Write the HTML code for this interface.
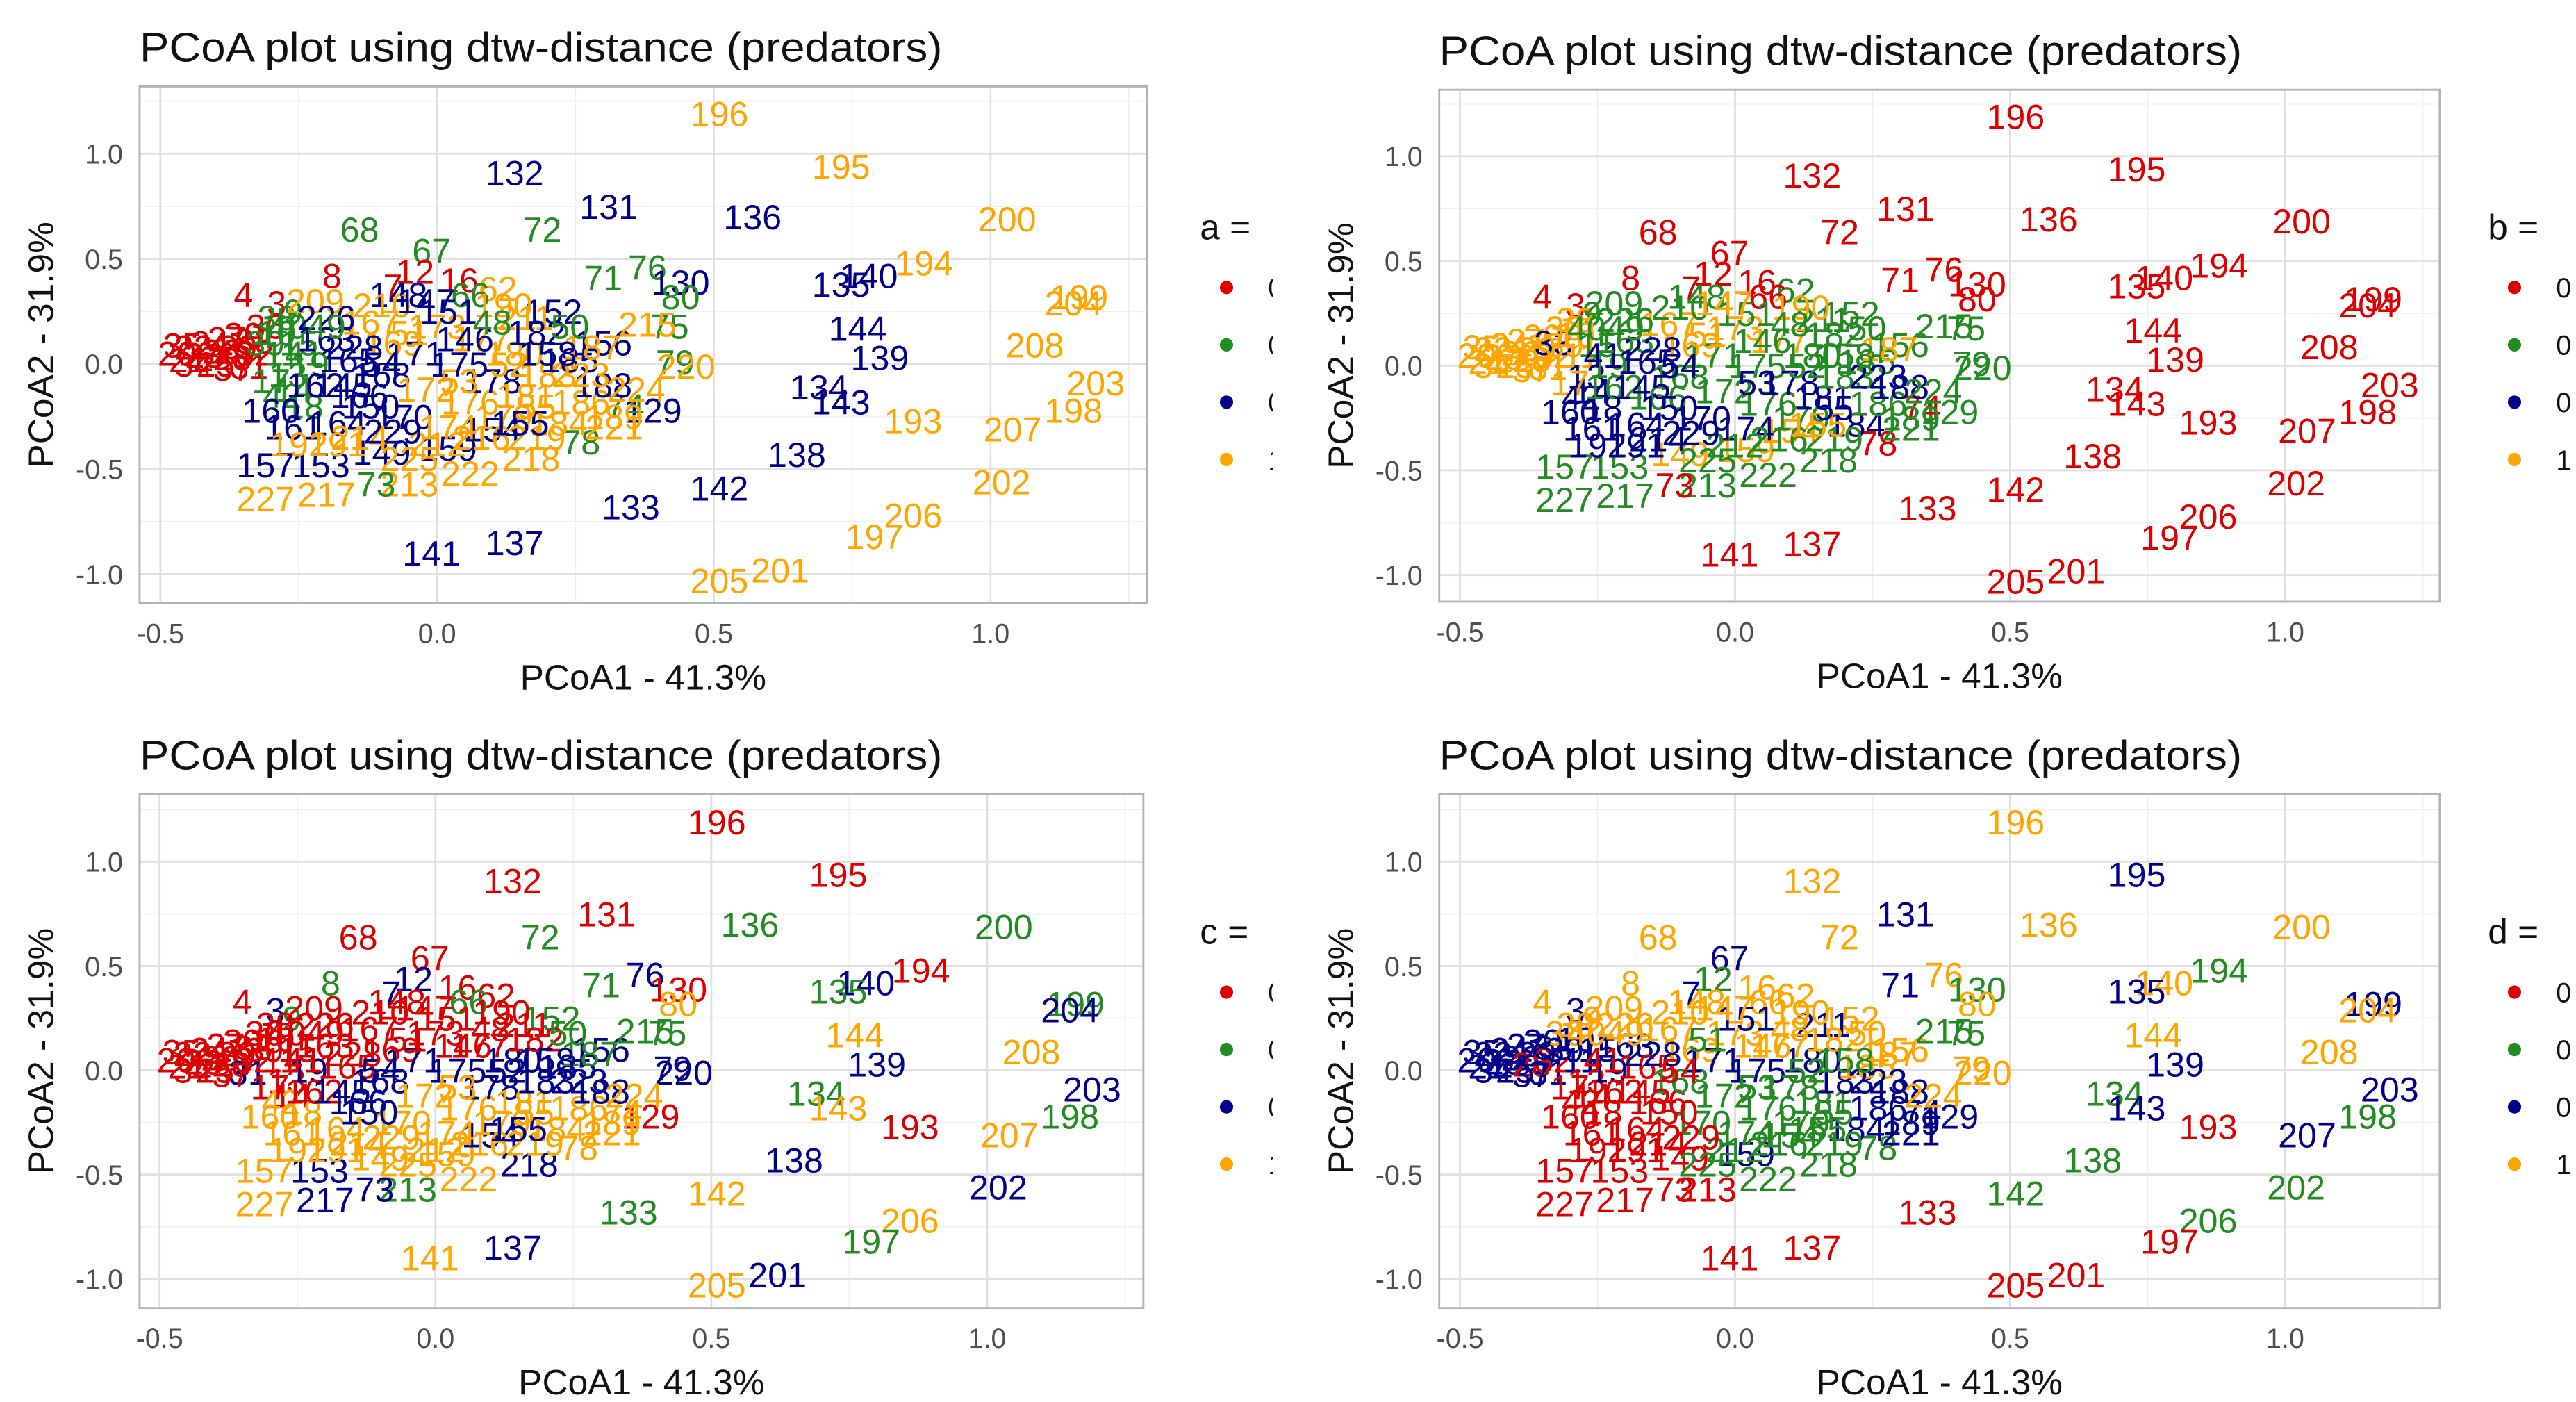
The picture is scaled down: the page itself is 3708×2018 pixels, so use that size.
<!DOCTYPE html>
<html><head><meta charset="utf-8">
<style>
html,body{margin:0;padding:0;background:#fff;}
svg{display:block;font-family:"Liberation Sans",Arial,sans-serif;}
</style></head>
<body>
<svg id="fig" width="3708" height="2018" viewBox="0 0 1550 843.6" preserveAspectRatio="none" xmlns="http://www.w3.org/2000/svg">
<defs>
<clipPath id="clipL"><rect x="0" y="0" width="766" height="843.6"/></clipPath>
</defs>
</svg>
<script>
// point labels
const labels = [196,132,195,131,136,200,68,72,67,71,76,130,80,194,140,135,199,204,144,208,139,203,134,143,198,193,207,138,202,142,133,206,197,141,137,205,201,8,4,3,12,7,16,148,152,156,75,215,79,220,129,74,218,213,73,222,217,227,157,153,149,159,154,78,62,66,211,
20,21,22,23,24,25,26,27,28,29,30,31,32,33,34,35,36,37,
9,10,11,13,14,15,17,18,19,38,39,40,41,42,
160,161,162,163,164,165,166,167,168,169,170,171,172,173,174,175,176,177,178,179,180,181,182,183,184,185,186,187,188,189,190,191,192,209,210,212,214,216,219,221,223,224,225,226,228,229,150,151,155,158,145,146,147,48,49,50,51,52,53,54,55];
// PCoA1 values
const pc1 = [.51,.14,.73,.31,.57,1.03,-.14,.19,-.01,.30,.38,.44,.44,.88,.78,.73,1.16,1.15,.76,1.08,.80,1.19,.69,.73,1.15,.86,1.04,.65,1.02,.51,.35,.86,.79,-.01,.14,.51,.62,-.19,-.35,-.29,-.04,-.08,.04,-.07,.21,.30,.42,.38,.43,.45,.39,.34,.17,-.05,-.11,.06,-.20,-.31,-.31,-.21,-.10,.02,.10,.26,.11,.06,.16,
-.47,-.45,-.44,-.42,-.41,-.40,-.39,-.38,-.37,-.36,-.35,-.34,-.33,-.33,-.44,-.46,-.31,-.37,
-.26,-.29,-.28,-.27,-.26,-.25,-.30,-.24,-.23,-.29,-.31,-.27,-.24,-.28,
-.30,-.26,-.22,-.20,-.18,-.16,-.14,-.12,-.10,-.08,-.06,-.04,-.02,0,.02,.04,.06,.08,.10,.12,.14,.16,.18,.20,.22,.24,.26,.28,.30,.32,.12,-.18,-.25,-.22,-.10,0,-.14,.08,.18,.32,.26,.36,-.05,-.20,-.15,-.08,-.12,.02,.15,.20,-.17,.05,-.02,.10,-.20,.24,-.05,.13,.04,-.10,.18];
// PCoA2 values
const pc2 = [1.19,.91,.94,.75,.70,.69,.64,.64,.54,.41,.46,.39,.32,.48,.42,.38,.32,.29,.17,.09,.03,-.09,-.11,-.18,-.22,-.27,-.31,-.43,-.56,-.59,-.68,-.72,-.82,-.90,-.85,-1.03,-.98,.42,.33,.29,.44,.37,.40,.33,.25,.10,.18,.19,.01,-.01,-.22,-.20,-.45,-.57,-.57,-.52,-.62,-.64,-.48,-.48,-.42,-.40,-.31,-.37,.36,.33,.22,
.05,.02,.08,.04,.10,0,.06,.12,.03,.08,.14,-.01,.05,.11,0,.09,.18,-.02,
.25,.15,.05,-.05,-.12,.10,-.08,-.20,0,.22,.10,.18,.05,-.15,
-.22,-.30,-.10,.12,-.28,.02,-.15,.20,-.05,.10,-.25,.05,-.12,.18,-.30,0,-.18,.12,-.08,-.25,.05,-.15,.15,-.05,-.28,.02,-.18,.08,-.10,-.25,.28,-.38,-.38,.30,.28,-.38,-.35,-.35,-.35,-.30,-.05,-.12,-.45,.22,.08,-.32,-.20,.25,-.28,.05,-.10,.12,.30,.20,.18,.18,.15,0,-.08,0,-.20];
// group codes per panel (0,1,2,3)
const groupA = [3,2,3,2,2,3,1,1,1,1,1,2,1,3,2,2,3,3,2,3,2,3,2,2,3,3,3,2,3,2,2,3,3,2,2,3,3,0,0,0,0,0,0,2,2,2,1,3,1,3,2,1,3,3,1,3,3,3,2,2,2,2,2,1,3,1,3,
0,0,0,0,0,0,0,0,0,0,0,0,0,0,0,0,0,0,
1,1,1,1,1,1,1,1,1,1,1,1,1,1,
2,2,2,2,2,2,2,3,2,3,2,2,3,3,3,2,3,3,2,3,3,3,2,3,3,2,3,3,2,3,3,3,3,3,3,3,3,3,3,3,3,3,3,2,2,2,2,2,2,2,2,2,2,1,1,1,3,3,3,2,3];
const groupB = [0,0,0,0,0,0,0,0,0,0,0,0,0,0,0,0,0,0,0,0,0,0,0,0,0,0,0,0,0,0,0,0,0,0,0,0,0,0,0,0,0,0,0,1,1,1,1,1,1,1,1,0,1,1,0,1,1,1,1,1,3,3,3,0,1,0,1,
3,3,3,3,3,3,3,3,3,3,3,3,3,2,3,3,3,3,
1,3,3,2,2,1,3,2,1,3,3,1,2,2,
2,2,1,1,2,2,1,3,1,3,2,1,1,3,2,1,1,3,2,1,1,2,1,1,2,1,1,3,2,1,3,2,2,1,1,1,2,1,1,1,2,1,1,1,2,2,2,1,3,1,2,1,3,1,1,1,3,1,2,2,2];
const groupC = [0,0,0,0,1,1,0,1,0,1,2,0,3,0,2,1,1,2,3,3,2,2,1,3,1,0,3,2,2,3,1,3,1,3,2,3,2,1,0,2,2,2,0,0,1,2,1,1,2,2,0,3,2,1,2,3,2,3,3,2,3,3,2,3,0,1,0,
0,0,0,0,0,0,0,0,0,0,0,2,0,0,0,0,0,0,
1,0,0,0,0,0,0,3,2,0,0,0,0,3,
3,3,0,0,3,0,2,0,2,0,3,2,3,0,3,2,3,0,2,3,2,3,0,2,3,2,3,1,2,3,0,3,3,0,0,3,3,3,3,3,2,3,3,0,0,3,2,0,2,2,2,0,0,0,0,1,0,2,3,2,3];
const groupD = [3,3,2,2,3,3,3,3,2,2,3,1,3,1,3,2,2,3,3,3,2,2,1,2,1,0,2,1,1,1,0,1,0,0,0,0,0,3,3,2,1,2,3,3,3,3,1,1,3,3,2,2,1,0,0,1,0,0,0,0,0,2,1,1,3,3,2,
2,2,2,2,2,2,2,2,0,2,2,2,0,2,2,2,3,2,
3,2,2,0,0,2,0,0,2,3,2,3,0,0,
0,0,0,2,0,0,0,3,1,3,1,2,1,3,1,2,1,3,1,1,2,1,3,2,2,3,2,3,2,2,3,0,0,3,3,1,0,1,1,2,2,3,1,3,2,0,0,2,1,1,0,3,3,3,3,3,1,1,1,0,1];
const palette = ["#dd0000","#228b22","#00008b","#ffa500"];
const xTicks = [-0.5,0,0.5,1];
const xTickLabels = ["-0.5","0.0","0.5","1.0"];
const yTicks = [-1,-0.5,0,0.5,1];
const yTickLabels = ["-1.0","-0.5","0.0","0.5","1.0"];
const legendLabels = ["0","0","0","1"];

const NS = "http://www.w3.org/2000/svg";
const svg = document.getElementById("fig");
function mk(tag, attrs, parent) {
  const e = document.createElementNS(NS, tag);
  for (const k in attrs) e.setAttribute(k, attrs[k]);
  (parent || svg).appendChild(e);
  return e;
}
const panels = [
  {key:"a", groups:groupA, L:84, R:690, T:52, B:363, x0:263, sx:333, y0:219, sy:126.5, legX:722, legY:137, clip:true},
  {key:"b", groups:groupB, L:866, R:1468, T:54, B:362, x0:1044, sx:331, y0:220, sy:126, legX:1497, legY:137, clip:false},
  {key:"c", groups:groupC, L:84, R:688, T:478, B:787, x0:262, sx:332, y0:644, sy:125.5, legX:722, legY:561, clip:true},
  {key:"d", groups:groupD, L:866, R:1468, T:478, B:787, x0:1044, sx:331, y0:644, sy:125.5, legX:1497, legY:561, clip:false}
];
panels.forEach(p => {
  const X = v => p.x0 + v * p.sx;
  const Y = v => p.y0 - v * p.sy;
  const g = mk("g", {});
  
  
  const bg = mk("rect", {x:p.L, y:p.T, width:p.R-p.L, height:p.B-p.T, fill:"#fff"}, g);
  
  
  [-0.75,-0.25,0.25,0.75,1.25].forEach(v => {
    const xx = X(v);
    if (xx > p.L && xx < p.R) mk("line", {x1:xx, x2:xx, y1:p.T, y2:p.B, stroke:"#f0f0f0", "stroke-width":0.8}, g);
    const yy = Y(v);
    if (yy > p.T && yy < p.B) mk("line", {x1:p.L, x2:p.R, y1:yy, y2:yy, stroke:"#f0f0f0", "stroke-width":0.8}, g);
  });
  xTicks.forEach((v, i) => {
    const l = mk("line", {x1:X(v), x2:X(v), y1:p.T, y2:p.B, stroke:"#e0e0e0", "stroke-width":1.2}, g);
    
    
    const t = mk("text", {x:X(v), y:p.B+24, "text-anchor":"middle", "font-size":16.5, fill:"#4d4d4d"}, g);
    t.textContent = xTickLabels[i];
    
    
  });
  yTicks.forEach((v, i) => {
    const l = mk("line", {x1:p.L, x2:p.R, y1:Y(v), y2:Y(v), stroke:"#e0e0e0", "stroke-width":1.2}, g);
    
    
    const t = mk("text", {x:p.L-10, y:Y(v)+6, "text-anchor":"end", "font-size":16.5, fill:"#4d4d4d"}, g);
    t.textContent = yTickLabels[i];
    
    
  });
  labels.forEach((lab, i) => {
    const t = mk("text", {x:X(pc1[i]), y:Y(pc2[i])+7.5, "text-anchor":"middle", "font-size":21, fill:palette[p.groups[i]]}, g);
    t.textContent = lab;
    
    
  });
  const border = mk("rect", {x:p.L, y:p.T, width:p.R-p.L, height:p.B-p.T, fill:"none", stroke:"#b3b3b3", "stroke-width":1.2}, g);
  
  
  const title = mk("text", {x:p.L, y:p.T-15, "font-size":25, fill:"#111", textLength:483, lengthAdjust:"spacingAndGlyphs"}, g);
  title.textContent = "PCoA plot using dtw-distance (predators)";
  
  
  const xt = mk("text", {x:(p.L+p.R)/2, y:p.B+52, "text-anchor":"middle", "font-size":21.5, fill:"#111"}, g);
  xt.textContent = "PCoA1 - 41.3%";
  
  
  const ycx = p.L - 52, ycy = (p.T+p.B)/2;
  const yt = mk("text", {x:ycx, y:ycy, "text-anchor":"middle", "font-size":21.5, fill:"#111", transform:"rotate(-90 "+ycx+" "+ycy+")"}, g);
  yt.textContent = "PCoA2 - 31.9%";
  
  
  const lg = mk("g", p.clip ? {"clip-path":"url(#clipL)"} : {}, g);
  
  
  const lt = mk("text", {x:p.legX, y:p.legY+7, "font-size":21.5, fill:"#111"}, lg);
  lt.textContent = p.key + " =";
  
  
  palette.forEach((c, k) => {
    const cy = p.legY + 36 + k * 34.5;
    const d = mk("circle", {cx:p.legX+16, cy:cy, r:4, fill:c}, lg);
    
    
    const tx = mk("text", {x:p.legX+41, y:cy+6, "font-size":16.5, fill:"#111"}, lg);
    tx.textContent = legendLabels[k];
    
    
  });
});
</script>
</body></html>
